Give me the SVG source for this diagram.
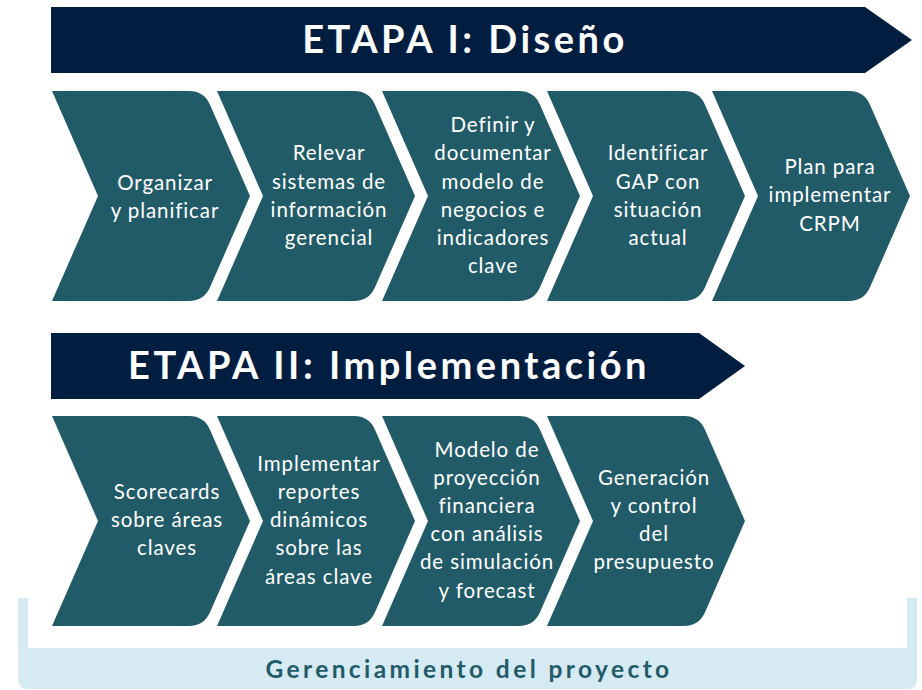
<svg xmlns="http://www.w3.org/2000/svg" width="922" height="690" viewBox="0 0 922 690">
<style>
.banner{fill:#011E41}
.chev{fill:#225B68}
.bt{font-family:Lato,"Open Sans",sans-serif;font-weight:bold;font-size:38px;letter-spacing:3.5px;fill:#fff;text-anchor:middle}
.ct{font-family:Lato,"Open Sans",sans-serif;font-size:20.5px;letter-spacing:0.9px;fill:#fff;text-anchor:middle}
.gt{font-family:Lato,"Open Sans",sans-serif;font-weight:bold;font-size:24.5px;letter-spacing:3.4px;fill:#225B68;text-anchor:middle}
</style>
<defs>
<path id="chev" d="M0,0 H137 Q152,0 158,13.7 L198,105 L158,196.3 Q152,210 137,210 H0 L46,105 Z"/>
</defs>
<g id="bracket">
<path d="M18,598 H28 V648 H907 V598 H917 V679 Q917,689 907,689 H28 Q18,689 18,679 Z" fill="#D5EAF3"/>
<text class="gt" x="469" y="678">Gerenciamiento del proyecto</text>
</g>
<g id="etapa1">
<path class="banner" d="M51,7 H865 L912,40 L865,73 H51 Z"/>
<text class="bt" x="465" y="53">ETAPA I: Diseño</text>
</g>
<g id="etapa2">
<path class="banner" d="M51,333 H699 L745,366 L699,399 H51 Z"/>
<text class="bt" x="389" y="379">ETAPA II: Implementación</text>
</g>
<g id="s1">
<use href="#chev" class="chev" x="52" y="91"/>
<text class="ct"><tspan x="165" y="190">Organizar</tspan><tspan x="165" y="218">y planificar</tspan></text>
</g>
<g id="s2">
<use href="#chev" class="chev" x="217" y="91"/>
<text class="ct"><tspan x="329" y="160">Relevar</tspan><tspan x="329" y="189">sistemas de</tspan><tspan x="329" y="217">información</tspan><tspan x="329" y="245">gerencial</tspan></text>
</g>
<g id="s3">
<use href="#chev" class="chev" x="382" y="91"/>
<text class="ct"><tspan x="493" y="132">Definir y</tspan><tspan x="493" y="160">documentar</tspan><tspan x="493" y="189">modelo de</tspan><tspan x="493" y="217">negocios e</tspan><tspan x="493" y="245">indicadores</tspan><tspan x="493" y="273">clave</tspan></text>
</g>
<g id="s4">
<use href="#chev" class="chev" x="547" y="91"/>
<text class="ct"><tspan x="658" y="160">Identificar</tspan><tspan x="658" y="189">GAP con</tspan><tspan x="658" y="217">situación</tspan><tspan x="658" y="245">actual</tspan></text>
</g>
<g id="s5">
<use href="#chev" class="chev" x="712" y="91"/>
<text class="ct"><tspan x="830" y="174">Plan para</tspan><tspan x="830" y="202">implementar</tspan><tspan x="830" y="231">CRPM</tspan></text>
</g>
<g id="s6">
<use href="#chev" class="chev" x="52" y="416"/>
<text class="ct"><tspan x="167" y="499">Scorecards</tspan><tspan x="167" y="527">sobre áreas</tspan><tspan x="167" y="555">claves</tspan></text>
</g>
<g id="s7">
<use href="#chev" class="chev" x="217" y="416"/>
<text class="ct"><tspan x="319" y="471">Implementar</tspan><tspan x="319" y="499">reportes</tspan><tspan x="319" y="527">dinámicos</tspan><tspan x="319" y="555">sobre las</tspan><tspan x="319" y="584">áreas clave</tspan></text>
</g>
<g id="s8">
<use href="#chev" class="chev" x="382" y="416"/>
<text class="ct"><tspan x="487" y="457">Modelo de</tspan><tspan x="487" y="485">proyección</tspan><tspan x="487" y="513">financiera</tspan><tspan x="487" y="541">con análisis</tspan><tspan x="487" y="569">de simulación</tspan><tspan x="487" y="598">y forecast</tspan></text>
</g>
<g id="s9">
<use href="#chev" class="chev" x="547" y="416"/>
<text class="ct"><tspan x="654" y="485">Generación</tspan><tspan x="654" y="513">y control</tspan><tspan x="654" y="541">del</tspan><tspan x="654" y="569">presupuesto</tspan></text>
</g>
<g id="connectors"/>
</svg>
